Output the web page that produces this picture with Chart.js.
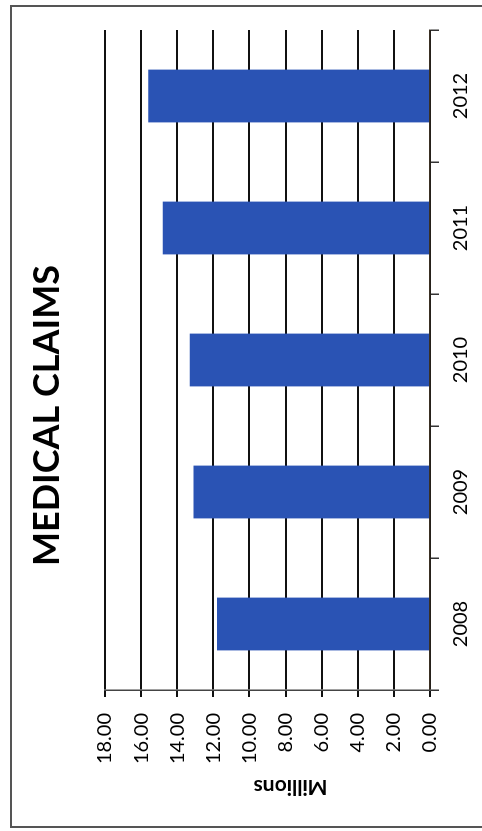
<!DOCTYPE html>
<html><head><meta charset="utf-8">
<script src="https://cdn.jsdelivr.net/npm/chart.js@4/dist/chart.umd.min.js"></script>
<style>
html,body{margin:0;padding:0;width:482px;height:831px;overflow:hidden;background:#fff;}
#frame{position:absolute;left:10px;top:5px;width:490px;height:823px;border:2px solid #555;box-sizing:border-box;}
#rot{position:absolute;left:0;top:0;width:831px;height:482px;transform-origin:0 0;transform:translate(0,831px) rotate(-90deg);}
</style></head><body>
<div id="frame"></div>
<div id="rot"><canvas id="c" width="831" height="482"></canvas></div>
<script>
const categories = ['2008', '2009', '2010', '2011', '2012'];
const claimsMillions = [11.8, 13.1, 13.3, 14.8, 15.6];
const valueTicks = [0, 2, 4, 6, 8, 10, 12, 14, 16, 18];
const chartTitle = 'MEDICAL CLAIMS';
const axisTitle = 'Millions';

const axisTitlePlugin = {
  id: 'axisTitleRot',
  afterDraw(chart) {
    const ctx = chart.ctx, a = chart.chartArea;
    ctx.save();
    ctx.font = 'bold 21px Lato';
    ctx.fillStyle = '#000';
    ctx.textAlign = 'center';
    ctx.textBaseline = 'middle';
    ctx.translate(44, (a.top + a.bottom) / 2 + 23);
    ctx.rotate(-Math.PI / 2);
    ctx.fillText(axisTitle, 0, 0);
    ctx.restore();
  }
};

function build() {
  Chart.defaults.font.family = 'Lato';
  Chart.defaults.color = '#000';
  new Chart(document.getElementById('c'), {
    type: 'bar',
    data: {
      labels: categories,
      datasets: [{
        data: claimsMillions,
        backgroundColor: '#2a53b4',
        borderWidth: 0,
        categoryPercentage: 1,
        barPercentage: 0.4
      }]
    },
    options: {
      responsive: false,
      animation: false,
      layout: { padding: 0 },
      plugins: {
        legend: { display: false },
        tooltip: { enabled: false },
        title: {
          display: true,
          text: chartTitle,
          color: '#000',
          font: { family: 'Lato', weight: 'bold', size: 36 },
          padding: { top: 25.4, bottom: 36.4 }
        }
      },
      scales: {
        x: {
          type: 'category',
          grid: { drawOnChartArea: false, drawTicks: true, tickLength: 9, color: '#333', lineWidth: 1.5, offset: true },
          border: { color: '#3a3024', width: 1.5 },
          ticks: { font: { size: 20 }, color: '#000', padding: 10, maxRotation: 0 },
          afterFit(s) { s.height = 52; }
        },
        y: {
          position: 'left',
          min: 0, max: 18,
          afterBuildTicks(s) { s.ticks = valueTicks.map(v => ({ value: v })); },
          grid: { color: '#111', lineWidth: 2, tickLength: 7, drawTicks: true },
          border: { color: '#444', width: 1.5 },
          ticks: { font: { size: 20 }, color: '#000', padding: 16, callback: v => Number(v).toFixed(2) },
          afterFit(s) { s.width = 141; }
        },
        yDummy: {
          position: 'right',
          display: true,
          grid: { display: false, drawTicks: false },
          border: { display: false },
          ticks: { display: false },
          afterFit(s) { s.width = 30; }
        }
      }
    },
    plugins: [axisTitlePlugin]
  });
}
Promise.all([document.fonts.load('20px Lato'), document.fonts.load('bold 36px Lato')]).then(build, build);
</script>
</body></html>
